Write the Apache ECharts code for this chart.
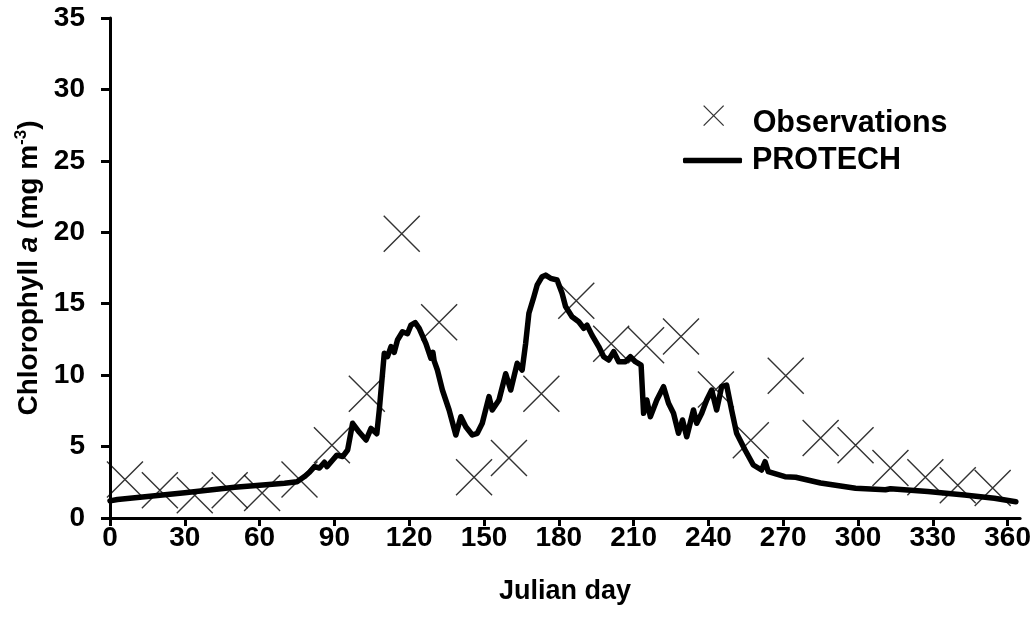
<!DOCTYPE html>
<html>
<head>
<meta charset="utf-8">
<script src="https://cdn.jsdelivr.net/npm/echarts@6/dist/echarts.min.js"></script>
<style>
html,body{margin:0;padding:0;background:#fff;}
#c{width:1034px;height:630px;}
</style>
</head>
<body>
<div id="c"></div>
<script>
// Observations (Julian day, chlorophyll a)
const obsDays = [6, 20, 34, 48, 61, 76, 89, 103, 117, 132, 146, 160, 173, 187, 201, 215, 229, 243, 257, 271, 285, 299, 313, 327, 340, 354];
const obsVals = [2.7, 1.95, 1.6, 1.95, 1.75, 2.7, 5.1, 8.7, 19.9, 13.7, 2.85, 4.2, 8.7, 15.2, 12.2, 12.1, 12.7, 9.0, 5.45, 9.95, 5.6, 5.1, 3.5, 2.85, 2.3, 2.1];

// PROTECH simulation (Julian day, chlorophyll a)
const modelDays = [0, 3, 10, 20, 30, 40, 50, 60, 70, 75, 78, 80, 82, 84, 86, 87, 89.3, 91, 93.3, 95.3, 97.3, 100, 102.7, 104.7, 107, 108, 110, 111.3, 112.7, 114, 115.3, 117.3, 119.3, 120.7, 122.4, 124, 126.7, 128.7, 129.5, 130, 131.3, 133.3, 136, 138.7, 139.3, 140.7, 142.7, 145.3, 147.3, 149.3, 152, 153.3, 156, 158.7, 160.7, 163.3, 165.3, 166.7, 168, 170, 171.3, 173.3, 174.7, 176.7, 179.3, 181.3, 182.7, 185.3, 188, 190, 191.3, 193.3, 196, 198, 200, 202, 204, 206.7, 208.7, 210.7, 213, 214, 215.3, 216.7, 219.3, 222, 224, 226, 228, 229.6, 231.3, 234, 235.3, 237.3, 239.3, 241.3, 243.3, 245.3, 247.3, 249.3, 251.3, 254.7, 258, 261.3, 262.7, 264, 270.7, 275, 285, 299, 311, 313, 328, 342.7, 354.7, 363.3];
const modelVals = [1.2, 1.3, 1.42, 1.6, 1.77, 1.96, 2.15, 2.3, 2.43, 2.54, 2.9, 3.2, 3.6, 3.5, 3.9, 3.6, 4.06, 4.4, 4.3, 4.76, 6.63, 6.0, 5.46, 6.27, 5.9, 7.56, 11.53, 11.3, 12.0, 11.6, 12.46, 13.04, 12.9, 13.5, 13.67, 13.28, 12.2, 11.18, 11.6, 11.0, 10.36, 8.96, 7.56, 5.81, 5.69, 7.09, 6.39, 5.81, 5.93, 6.63, 8.5, 7.56, 8.26, 10.1, 8.96, 10.83, 10.36, 12.23, 14.33, 15.49, 16.3, 16.89, 17.0, 16.78, 16.66, 15.73, 14.8, 14.09, 13.74, 13.28, 13.5, 12.8, 12.0, 11.29, 11.06, 11.64, 10.94, 10.94, 11.29, 10.94, 10.7, 7.33, 8.26, 7.09, 8.26, 9.19, 8.03, 7.33, 5.93, 6.86, 5.69, 7.56, 6.63, 7.33, 8.26, 8.96, 7.56, 9.19, 9.3, 7.56, 5.93, 4.76, 3.71, 3.36, 3.94, 3.24, 2.89, 2.85, 2.45, 2.08, 1.98, 2.05, 1.85, 1.61, 1.38, 1.14];

// Axis ticks
const xTicks = [0, 30, 60, 90, 120, 150, 180, 210, 240, 270, 300, 330, 360];
const yTicks = [0, 5, 10, 15, 20, 25, 30, 35];

const FONT = '"Liberation Sans", Arial, sans-serif';
const crossPath = 'path://M0,0L10,10M0,10L10,0';
const legendCrossPath = 'path://M0,0L10,10M0,10L10,0M5,17.5L5,17.5';

const chart = echarts.init(document.getElementById('c'), null, {renderer: 'canvas'});
chart.setOption({
  animation: false,
  backgroundColor: '#ffffff',
  textStyle: {fontFamily: FONT, color: '#000'},
  grid: {left: 110, right: 11.5, top: 18, bottom: 112, containLabel: false},
  legend: [
    {
      data: ['Observations'],
      left: 703, top: 105, padding: 0,
      icon: legendCrossPath,
      itemWidth: 20, itemHeight: 35,
      itemStyle: {color: 'transparent', borderColor: '#000', borderWidth: 1.3},
      textStyle: {fontFamily: FONT, fontSize: 30.5, fontWeight: 'bold', color: '#000', padding: [0, 0, 0, 24]}
    },
    {
      data: ['PROTECH'],
      left: 683, top: 145, padding: 0,
      icon: 'roundRect',
      itemWidth: 59, itemHeight: 5.5,
      itemStyle: {color: '#000', borderWidth: 0},
      textStyle: {fontFamily: FONT, fontSize: 30.5, fontWeight: 'bold', color: '#000', padding: [0, 0, 0, 5]}
    }
  ],
  xAxis: {
    type: 'value', min: 0, max: 365, interval: 30,
    name: 'Julian day', nameLocation: 'middle', nameGap: 60,
    nameTextStyle: {fontFamily: FONT, fontSize: 27, fontWeight: 'bold', color: '#000'},
    axisLine: {show: true, onZero: false, lineStyle: {color: '#000', width: 3}},
    axisTick: {show: true, inside: false, length: 8, lineStyle: {color: '#000', width: 3}, customValues: xTicks},
    axisLabel: {margin: 6, fontFamily: FONT, fontSize: 28, fontWeight: 'bold', color: '#000', customValues: xTicks},
    splitLine: {show: false}
  },
  yAxis: {
    type: 'value', min: 0, max: 35, interval: 5,
    name: '{b|Chlorophyll }{i|a}{b| (mg m}{s|-3}{b|)}',
    nameLocation: 'middle', nameGap: 65, nameRotate: 90,
    nameTextStyle: {
      fontFamily: FONT, fontSize: 28, fontWeight: 'bold', color: '#000',
      rich: {
        b: {fontFamily: FONT, fontSize: 28, fontWeight: 'bold', color: '#000', lineHeight: 32},
        i: {fontFamily: FONT, fontSize: 28, fontWeight: 'bold', fontStyle: 'italic', color: '#000', lineHeight: 32},
        s: {fontFamily: FONT, fontSize: 17, fontWeight: 'bold', color: '#000', lineHeight: 17, verticalAlign: 'top'}
      }
    },
    axisLine: {show: true, lineStyle: {color: '#000', width: 3}},
    axisTick: {show: true, inside: false, length: 9, lineStyle: {color: '#000', width: 3}, customValues: yTicks},
    axisLabel: {margin: 25, fontFamily: FONT, fontSize: 28, fontWeight: 'bold', color: '#000', customValues: yTicks},
    splitLine: {show: false}
  },
  series: [
    {
      name: 'Observations',
      type: 'scatter',
      symbol: crossPath,
      symbolSize: 36,
      symbolKeepAspect: true,
      itemStyle: {color: 'transparent', borderColor: '#000', borderWidth: 1.4},
      data: obsDays.map((d, i) => [d, obsVals[i]]),
      z: 2
    },
    {
      name: 'PROTECH',
      type: 'line',
      symbol: 'none',
      showSymbol: false,
      lineStyle: {color: '#000', width: 5.5, cap: 'round', join: 'round'},
      itemStyle: {color: '#000'},
      data: modelDays.map((d, i) => [d, modelVals[i]]),
      z: 3
    }
  ]
});
</script>
</body>
</html>
